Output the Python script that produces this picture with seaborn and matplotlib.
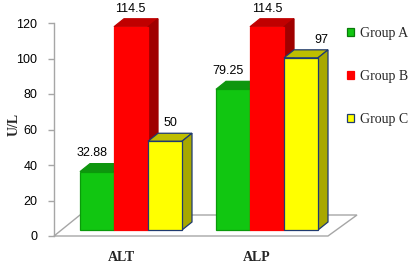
import numpy as np
import pandas as pd
import matplotlib
matplotlib.use("Agg")
import matplotlib.pyplot as plt
import matplotlib.transforms as mtransforms
from matplotlib.patches import Polygon, Patch
import seaborn as sns

# ---------------- data ----------------
categories = ["ALT", "ALP"]
groups = ["Group A", "Group B", "Group C"]
group_a = [32.88, 79.25]
group_b = [114.5, 114.5]
group_c = [50, 97]
label_a = ["32.88", "79.25"]
label_b = ["114.5", "114.5"]
label_c = ["50", "97"]
y_ticks = [0, 20, 40, 60, 80, 100, 120]
y_label = "U/L"

# ---------------- style ----------------
front_colors = ["#11C611", "#FF0000", "#FFFF00"]
top_colors = ["#0E960E", "#C00000", "#BEBE00"]
side_colors = ["#0B800B", "#A00000", "#A8A800"]
edge_colors = ["#0A9A0A", "#FF0000", "#1F3A70"]
label_dx_px = [[-10, -10], [-6, -5], [0, 15]]

df = pd.DataFrame({
    "test": categories * 3,
    "group": [g for g in groups for _ in categories],
    "value": group_a + group_b + group_c,
})
values = [group_a, group_b, group_c]
labels = [label_a, label_b, label_c]

sns.set_theme(style="white")
plt.rcParams["font.family"] = ["Liberation Sans", "DejaVu Sans"]

W, H = 420, 272
fig = plt.figure(figsize=(W / 100, H / 100), dpi=100)
fig.patch.set_facecolor("white")
ax_left, ax_right, ax_top, ax_bottom = 54, 340, 23, 236
ax = fig.add_axes([ax_left / W, (H - ax_bottom) / H,
                   (ax_right - ax_left) / W, (ax_bottom - ax_top) / H])

sns.barplot(data=df, x="test", y="value", hue="group", order=categories,
            hue_order=groups, palette=dict(zip(groups, front_colors)),
            width=0.75, gap=0, saturation=1, errorbar=None, legend=False,
            ax=ax)

cat_px = 136.0
x0_px = 131.0
xlim = ((ax_left - x0_px) / cat_px, (ax_right - x0_px) / cat_px)
ax.set_xlim(*xlim)
ax.set_ylim(0, 120)
ppu = (ax_bottom - ax_top) / 120.0

def px2x(px):
    return (px - x0_px) / cat_px

def py2y(py):
    return (ax_bottom - py) / ppu

# floor
floor = Polygon([(px2x(54), 0), (px2x(328), 0), (px2x(357), py2y(215)),
                 (px2x(80), py2y(215))], closed=True, facecolor="white",
                edgecolor="#A6A6A6", lw=1, zorder=1, clip_on=False)
ax.add_patch(floor)

base = py2y(230)
ddx = 10 / cat_px
ddy = 8 / ppu

for k, cont in enumerate(ax.containers):
    for i, bar in enumerate(cont.patches):
        x0 = bar.get_x()
        w = bar.get_width()
        h = bar.get_height()
        bar.set_y(base)
        bar.set_edgecolor(edge_colors[k])
        bar.set_linewidth(0.9)
        bar.set_zorder(3 + k + 0.02)
        bar.set_clip_on(False)
        top = base + h
        ax.add_patch(Polygon([(x0, top), (x0 + w, top), (x0 + w + ddx, top + ddy),
                              (x0 + ddx, top + ddy)], closed=True,
                             facecolor=top_colors[k], edgecolor=edge_colors[k] if k == 2 else top_colors[k],
                             lw=0.9, zorder=3 + k + 0.01, clip_on=False))
        ax.add_patch(Polygon([(x0 + w, base), (x0 + w + ddx, base + ddy),
                              (x0 + w + ddx, top + ddy), (x0 + w, top)], closed=True,
                             facecolor=side_colors[k], edgecolor=edge_colors[k] if k == 2 else side_colors[k],
                             lw=0.9, zorder=3 + k + 0.01, clip_on=False))
        ax.annotate(labels[k][i], xy=(x0 + w / 2 + ddx / 2, top + ddy),
                    xytext=(label_dx_px[k][i] * 0.72, 3), textcoords="offset points",
                    ha="center", va="bottom", fontsize=9, color="black",
                    zorder=10, annotation_clip=False)

# axes styling
for s in ["top", "right", "bottom"]:
    ax.spines[s].set_visible(False)
ax.spines["left"].set_color("#A6A6A6")
ax.spines["left"].set_linewidth(1)
ax.set_yticks(y_ticks)
ax.tick_params(axis="y", left=True, length=4, width=1, color="#A6A6A6",
               labelsize=9, labelcolor="black", pad=8)
ax.tick_params(axis="x", bottom=False, length=0, pad=11)
ax.set_xticks(range(len(categories)))
ax.set_xticklabels(categories, fontsize=10, fontweight="bold",
                   family=["Liberation Serif", "DejaVu Serif"])
shift = mtransforms.ScaledTranslation(-10 / 100, 0, fig.dpi_scale_trans)
for t in ax.get_xticklabels():
    t.set_transform(t.get_transform() + shift)
ax.set_xlabel("")
ax.set_ylabel(y_label, fontsize=10, fontweight="bold",
              family=["Liberation Serif", "DejaVu Serif"])
ax.yaxis.set_label_coords((21 - ax_left) / (ax_right - ax_left),
                          (ax_bottom - 124) / (ax_bottom - ax_top))
ax.grid(False)
ax.set_facecolor("none")

handles = [Patch(facecolor=front_colors[k],
                 edgecolor=["#0A7A0A", "#FF0000", "#1F3A70"][k], lw=0.9)
           for k in range(3)]
leg = fig.legend(handles, groups, loc="center left",
                 bbox_to_anchor=(347 / W, 1 - 76.5 / H), frameon=False,
                 prop={"family": ["Liberation Serif", "DejaVu Serif"], "size": 10},
                 handlelength=0.5, handleheight=0.5, handletextpad=0.4,
                 labelspacing=2.15, borderpad=0, borderaxespad=0)

fig.savefig("out.png", dpi=100, facecolor="white")
